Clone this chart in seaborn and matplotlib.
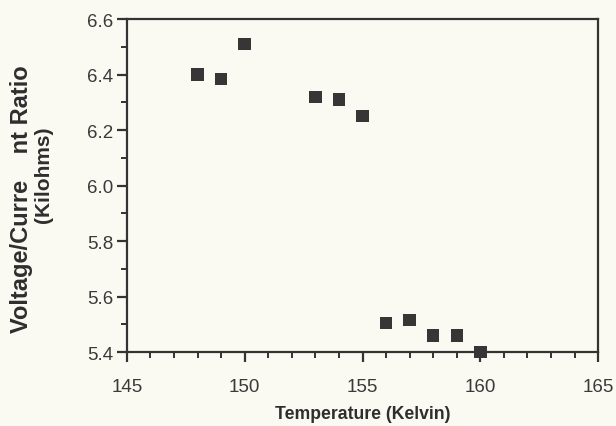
import numpy as np
import pandas as pd
import matplotlib
matplotlib.use("Agg")
import matplotlib.pyplot as plt
import seaborn as sns
from matplotlib.ticker import MultipleLocator

# data
temperature = [148, 149, 150, 153, 154, 155, 156, 157, 158, 159, 160]
ratio = [6.40, 6.385, 6.51, 6.32, 6.31, 6.25, 5.505, 5.515, 5.46, 5.46, 5.40]

df = pd.DataFrame({"Temperature": temperature, "Ratio": ratio})

sns.set_style("ticks")
plt.rcParams["font.family"] = ["Liberation Sans", "DejaVu Sans"]

paper = "#fafaf2"
ink = "#333333"

fig = plt.figure(figsize=(6.16, 4.27), dpi=100, facecolor=paper)
ax = fig.add_axes([0.206, 0.173, 0.765, 0.780])
ax.set_facecolor(paper)

sns.scatterplot(data=df, x="Temperature", y="Ratio", marker="s", s=80,
                color="#363636", edgecolor="none", ax=ax, clip_on=False, zorder=5)

ax.set_xlim(145, 165)
ax.set_ylim(5.4, 6.6)
ax.xaxis.set_major_locator(MultipleLocator(5))
ax.xaxis.set_minor_locator(MultipleLocator(1))
ax.yaxis.set_major_locator(MultipleLocator(0.2))
ax.yaxis.set_minor_locator(MultipleLocator(0.1))
ax.set_yticklabels([f"{v:.1f}" for v in ax.get_yticks()])

for sp in ax.spines.values():
    sp.set_color(ink)
    sp.set_linewidth(1.6)

ax.tick_params(which="major", direction="out", length=7.5, width=1.6, color=ink,
               labelsize=13.5, labelcolor="#3a3a3a", top=False, right=False)
ax.tick_params(axis="x", which="major", pad=11)
ax.tick_params(axis="y", which="major", pad=2.5)
ax.tick_params(which="minor", direction="out", length=4.5, width=1.4, color=ink,
               top=False, right=False)

ax.set_xlabel("Temperature (Kelvin)", fontsize=12.7, fontweight="bold",
              color="#2e2e2e", labelpad=7)
ax.set_ylabel("")
ax.text(-0.223, 0.4625, "Voltage/Curre    nt Ratio", transform=ax.transAxes,
        rotation=90, ha="center", va="center", fontsize=17, fontweight="bold",
        color="#2e2e2e")
ax.text(-0.178, 0.5345, "(Kilohms)", transform=ax.transAxes,
        rotation=90, ha="center", va="center", fontsize=15, fontweight="bold",
        color="#2e2e2e")

fig.savefig("out.png", dpi=100, facecolor=paper)
